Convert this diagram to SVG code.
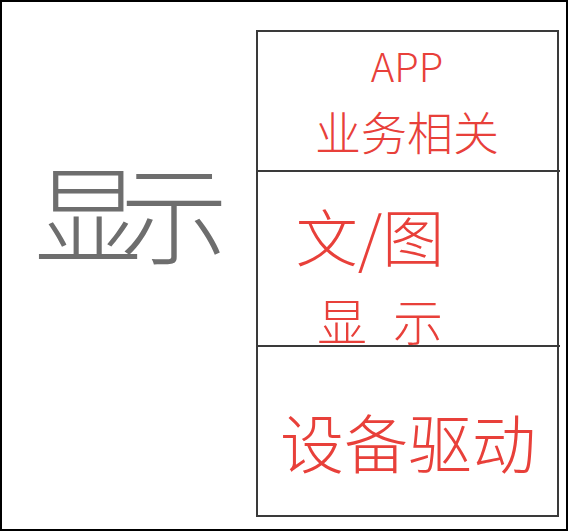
<svg xmlns="http://www.w3.org/2000/svg" width="568" height="531" viewBox="0 0 568 531">
<style>
.red{fill:#e8403a;font-family:"Noto Sans CJK SC","Liberation Sans",sans-serif;font-weight:300;text-anchor:middle}
.gray{fill:#6e6e6e;font-family:"Noto Sans CJK SC","Liberation Sans",sans-serif;font-weight:300;text-anchor:middle}
.ln{stroke:#3a3a3a;stroke-width:2;fill:none}
</style>
<rect x="0" y="0" width="568" height="531" fill="#ffffff"/>
<rect x="1" y="1" width="566" height="529" fill="none" stroke="#000" stroke-width="2"/>
<g id="label-left">
<text class="gray" x="120" y="256" font-size="108" letter-spacing="-22">显示</text>
</g>
<g id="connectors">
<rect class="ln" x="257" y="31" width="301" height="485"/>
<line class="ln" x1="257" y1="171" x2="560" y2="171"/>
<line class="ln" x1="257" y1="346" x2="560" y2="346"/>
</g>
<g id="node-app">
<text class="red" x="407" y="82" font-size="40" font-family="Liberation Sans">APP</text>
<text class="red" x="407" y="150" font-size="46">业务相关</text>
</g>
<g id="node-display">
<text class="red" x="370" y="262" font-size="62">文/图</text>
<text class="red" x="393" y="341" font-size="50" letter-spacing="26">显示</text>
</g>
<g id="node-driver">
<text class="red" x="408" y="468" font-size="64">设备驱动</text>
</g>
</svg>
